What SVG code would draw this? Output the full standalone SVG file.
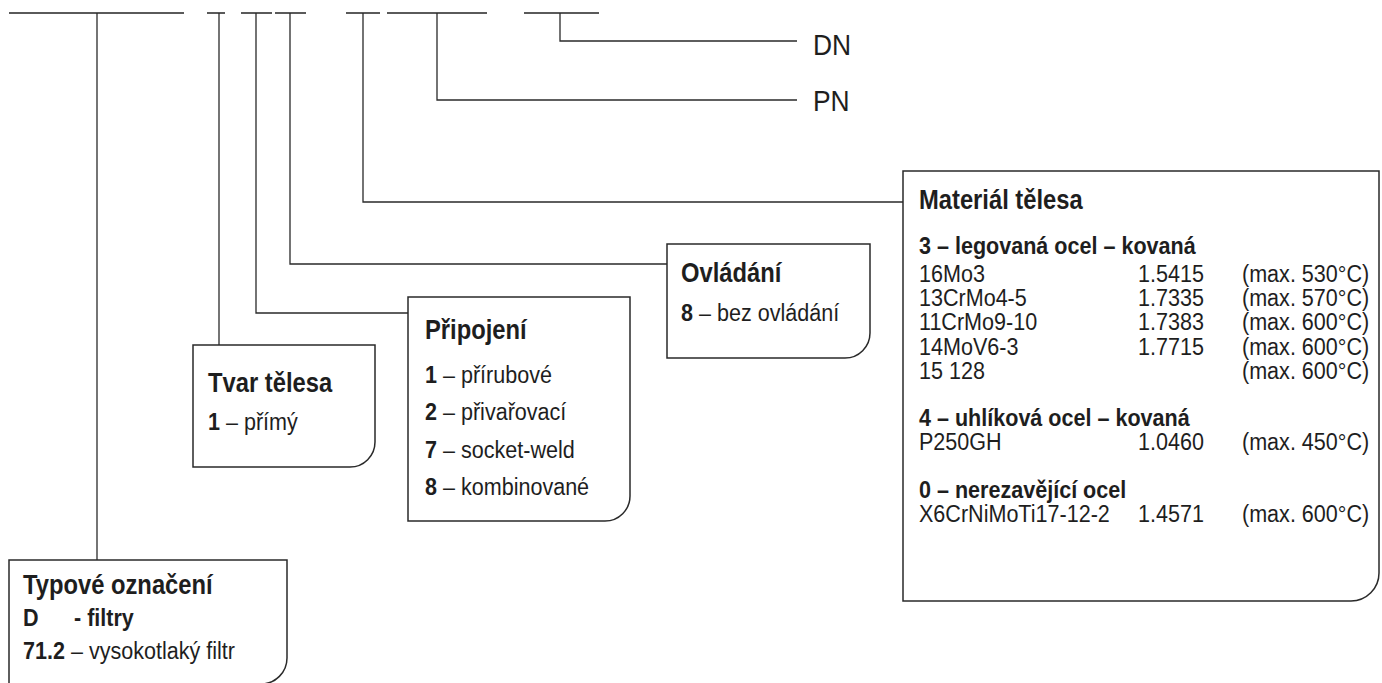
<svg xmlns="http://www.w3.org/2000/svg" width="1382" height="683" viewBox="0 0 1382 683">
<style>
.bg{fill:#ffffff}
.seg{stroke:#5a5a5a;stroke-width:2;fill:none}
.con{stroke:#2a2a2a;stroke-width:1.3;fill:none}
.box{stroke:#2a2a2a;stroke-width:1.5;fill:#ffffff}
text{font-family:'Liberation Sans',Arial,sans-serif;fill:#1e1e1e}
.t{font-size:27px;font-weight:bold}
.b{font-size:24.5px}
.h{font-size:24.5px;font-weight:bold}
.k{font-weight:bold}
.dn{font-size:30px}
</style>
<rect class="bg" x="0" y="0" width="1382" height="683"/>
<g id="code-line">
<path class="seg" d="M9,13H184M207,13H225M241,13H272M275,13H306M346,13H380M387,13H487M524,13H599"/>
</g>
<g id="connectors">
<path class="con" d="M97,13V560"/>
<path class="con" d="M219,13V345"/>
<path class="con" d="M256,13V313H408"/>
<path class="con" d="M290,13V264H667"/>
<path class="con" d="M363,13V202H903"/>
<path class="con" d="M437,13V100H797"/>
<path class="con" d="M560,13V41H797"/>
</g>
<g id="dn">
<text class="dn" transform="matrix(0.88,0,0,1,813,55)">DN</text>
</g>
<g id="pn">
<text class="dn" transform="matrix(0.88,0,0,1,813,111)">PN</text>
</g>
<g id="typove">
<path class="box" d="M9,560H287V658A26,26 0 0 1 261,684H9Z"/>
<text class="t" transform="matrix(0.88,0,0,1,23,594)">Typové označení</text>
<text class="h" transform="matrix(0.88,0,0,1,23,626)">D</text>
<text class="h" transform="matrix(0.88,0,0,1,74,626)">- filtry</text>
<text class="b" transform="matrix(0.88,0,0,1,23,659)"><tspan class="k">71.2</tspan> – vysokotlaký filtr</text>
</g>
<g id="tvar">
<path class="box" d="M193,345H375V442A25,25 0 0 1 350,467H193Z"/>
<text class="t" transform="matrix(0.88,0,0,1,208,392)">Tvar tělesa</text>
<text class="b" transform="matrix(0.88,0,0,1,208,430)"><tspan class="k">1</tspan> – přímý</text>
</g>
<g id="pripojeni">
<path class="box" d="M408,297H630V496A25,25 0 0 1 605,521H408Z"/>
<text class="t" transform="matrix(0.88,0,0,1,425,339)">Připojení</text>
<text class="b" transform="matrix(0.88,0,0,1,425,383)"><tspan class="k">1</tspan> – přírubové</text>
<text class="b" transform="matrix(0.88,0,0,1,425,420)"><tspan class="k">2</tspan> – přivařovací</text>
<text class="b" transform="matrix(0.88,0,0,1,425,458)"><tspan class="k">7</tspan> – socket-weld</text>
<text class="b" transform="matrix(0.88,0,0,1,425,495)"><tspan class="k">8</tspan> – kombinované</text>
</g>
<g id="ovladani">
<path class="box" d="M667,244H870V333A25,25 0 0 1 845,358H667Z"/>
<text class="t" transform="matrix(0.88,0,0,1,681,282)">Ovládání</text>
<text class="b" transform="matrix(0.88,0,0,1,681,321)"><tspan class="k">8</tspan> – bez ovládání</text>
</g>
<g id="material">
<path class="box" d="M903,171H1379V573A28,28 0 0 1 1351,601H903Z"/>
<text class="t" transform="matrix(0.88,0,0,1,919,209)">Materiál tělesa</text>
<text class="h" transform="matrix(0.88,0,0,1,919,254)">3 – legovaná ocel – kovaná</text>
<text class="b" transform="matrix(0.88,0,0,1,919,282)">16Mo3</text><text class="b" transform="matrix(0.88,0,0,1,1138,282)">1.5415</text><text class="b" transform="matrix(0.88,0,0,1,1242,282)">(max. 530°C)</text>
<text class="b" transform="matrix(0.88,0,0,1,919,306)">13CrMo4-5</text><text class="b" transform="matrix(0.88,0,0,1,1138,306)">1.7335</text><text class="b" transform="matrix(0.88,0,0,1,1242,306)">(max. 570°C)</text>
<text class="b" transform="matrix(0.88,0,0,1,919,330)">11CrMo9-10</text><text class="b" transform="matrix(0.88,0,0,1,1138,330)">1.7383</text><text class="b" transform="matrix(0.88,0,0,1,1242,330)">(max. 600°C)</text>
<text class="b" transform="matrix(0.88,0,0,1,919,355)">14MoV6-3</text><text class="b" transform="matrix(0.88,0,0,1,1138,355)">1.7715</text><text class="b" transform="matrix(0.88,0,0,1,1242,355)">(max. 600°C)</text>
<text class="b" transform="matrix(0.88,0,0,1,919,379)">15 128</text><text class="b" transform="matrix(0.88,0,0,1,1242,379)">(max. 600°C)</text>
<text class="h" transform="matrix(0.88,0,0,1,919,426)">4 – uhlíková ocel – kovaná</text>
<text class="b" transform="matrix(0.88,0,0,1,919,450)">P250GH</text><text class="b" transform="matrix(0.88,0,0,1,1138,450)">1.0460</text><text class="b" transform="matrix(0.88,0,0,1,1242,450)">(max. 450°C)</text>
<text class="h" transform="matrix(0.88,0,0,1,919,498)">0 – nerezavějící ocel</text>
<text class="b" transform="matrix(0.88,0,0,1,919,522)">X6CrNiMoTi17-12-2</text><text class="b" transform="matrix(0.88,0,0,1,1138,522)">1.4571</text><text class="b" transform="matrix(0.88,0,0,1,1242,522)">(max. 600°C)</text>
</g>
</svg>
